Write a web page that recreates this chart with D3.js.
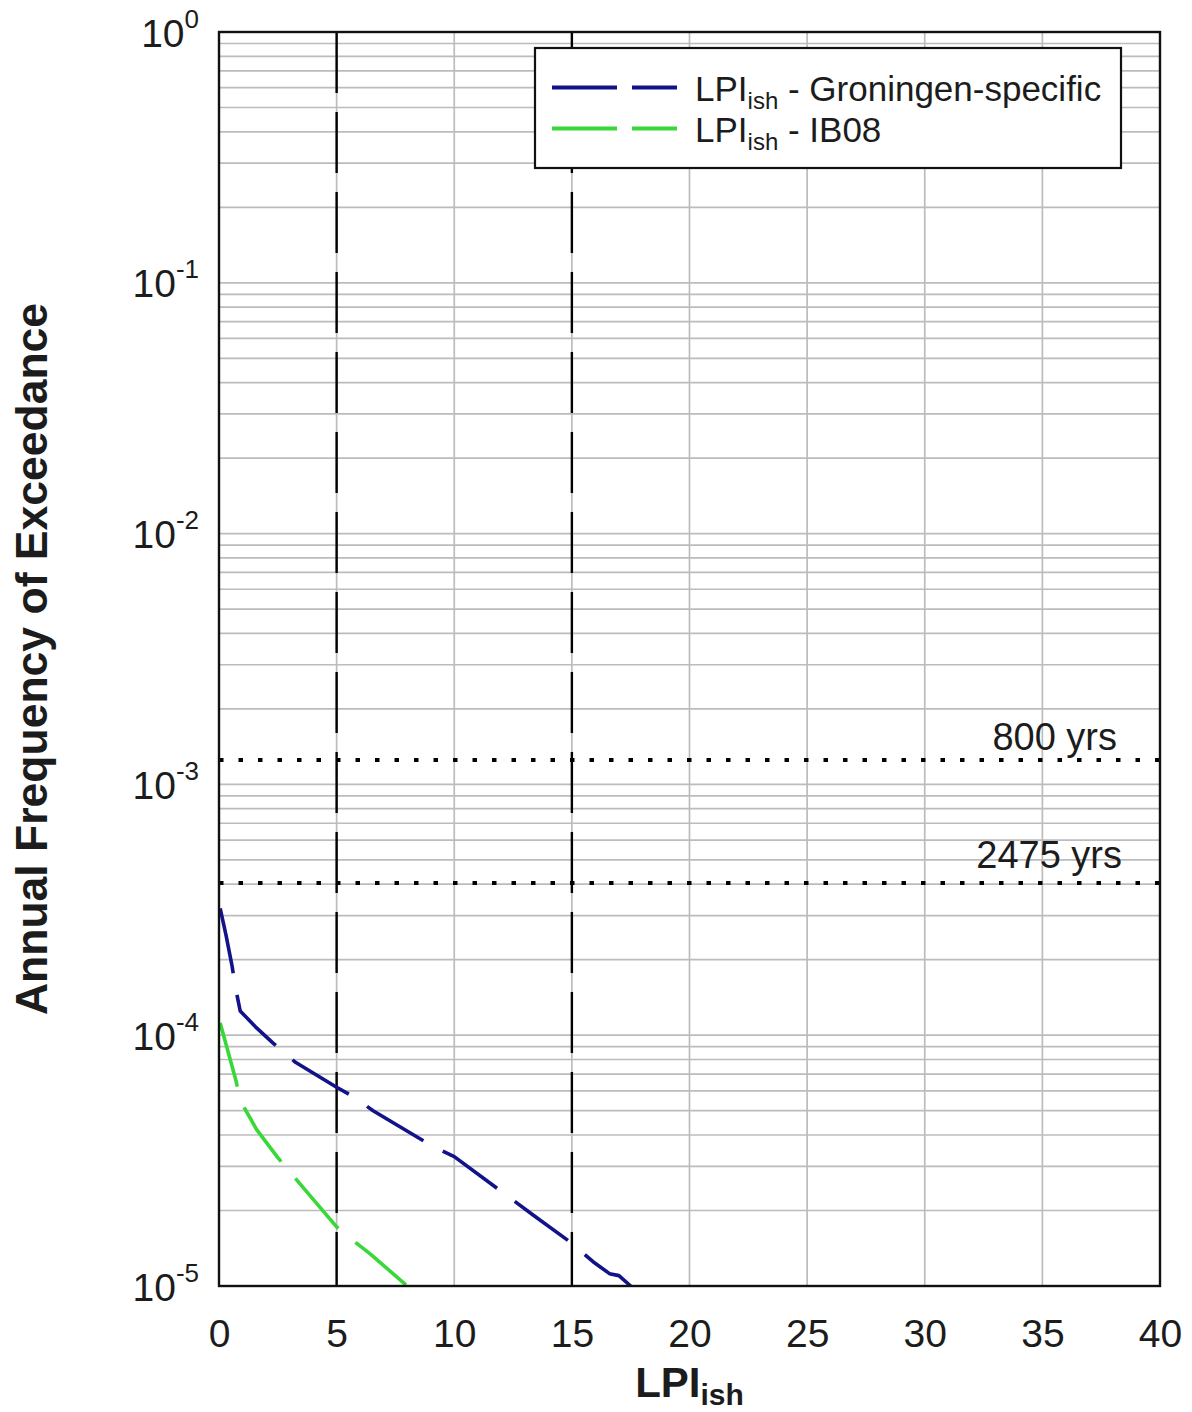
<!DOCTYPE html>
<html>
<head>
<meta charset="utf-8">
<script src="https://cdn.jsdelivr.net/npm/d3@7"></script>
<style>
  body { margin: 0; background: #fff; }
  svg { display: block; }
  text { font-family: "Liberation Sans", Arial, sans-serif; fill: #1c1c1c; }
</style>
</head>
<body>
<svg id="chart" width="1192" height="1412"></svg>
<script>
// Axis ticks
const xTicks = [0, 5, 10, 15, 20, 25, 30, 35, 40];
const yDecades = [1, 1e-1, 1e-2, 1e-3, 1e-4, 1e-5];
const yExponents = ["0", "-1", "-2", "-3", "-4", "-5"];

// LPIish hazard curves (annual frequency of exceedance)
const gronLPI  = [0.05, 0.3, 0.55, 0.7, 0.9, 1.55, 2.3, 3.25, 5.0, 5.7, 6.55, 9.1, 10.0, 12.5, 13.35, 15.0, 15.9, 16.6, 17.0, 17.5];
const gronFreq = [3.2e-4, 2.5e-4, 1.9e-4, 1.55e-4, 1.25e-4, 1.08e-4, 9.3e-5, 7.8e-5, 6.2e-5, 5.7e-5, 5.0e-5, 3.6e-5, 3.28e-5, 2.2e-5, 1.92e-5, 1.48e-5, 1.25e-5, 1.12e-5, 1.1e-5, 1.0e-5];

const ib08LPI  = [0.05, 0.4, 0.72, 0.9, 1.6, 2.5, 3.3, 5.0, 5.5, 6.4, 8.0];
const ib08Freq = [1.12e-4, 8.5e-5, 6.6e-5, 5.5e-5, 4.2e-5, 3.25e-5, 2.65e-5, 1.72e-5, 1.57e-5, 1.35e-5, 1.0e-5];

// Reference levels
const markerLPI = [5, 15];
const returnPeriods = [800, 2475];
const returnLabels = ["800 yrs", "2475 yrs"];

const seriesNames = ["Groningen-specific", "IB08"];
const seriesColors = ["#12128a", "#38d838"];

const svg = d3.select("#chart");
const plotLeft = 219, plotRight = 1160, plotTop = 32, plotBottom = 1286;

const x = d3.scaleLinear().domain([0, 40]).range([plotLeft, plotRight]);
const y = d3.scaleLog().domain([1e-5, 1]).range([plotBottom, plotTop]);

svg.append("defs").append("clipPath").attr("id", "plotClip")
  .append("rect").attr("x", plotLeft).attr("y", plotTop)
  .attr("width", plotRight - plotLeft).attr("height", plotBottom - plotTop);

// Grid
const grid = svg.append("g").attr("stroke", "#bcbcbc").attr("stroke-width", 1.7);
grid.selectAll("line.gy").data(y.ticks()).join("line")
  .attr("x1", plotLeft).attr("x2", plotRight)
  .attr("y1", d => y(d)).attr("y2", d => y(d));
grid.selectAll("line.gx").data(xTicks.slice(1, -1)).join("line")
  .attr("x1", d => x(d)).attr("x2", d => x(d))
  .attr("y1", plotTop).attr("y2", plotBottom);

const plot = svg.append("g").attr("clip-path", "url(#plotClip)");

// Vertical dashed markers
plot.selectAll("line.mark").data(markerLPI).join("line")
  .attr("x1", d => x(d)).attr("x2", d => x(d))
  .attr("y1", plotTop).attr("y2", plotBottom)
  .attr("stroke", "#000").attr("stroke-width", 2.4)
  .attr("stroke-dasharray", "61,19");

// Return-period levels
plot.selectAll("line.rp").data(returnPeriods).join("line")
  .attr("x1", plotLeft).attr("x2", plotRight)
  .attr("y1", d => y(1 / d)).attr("y2", d => y(1 / d))
  .attr("stroke", "#000").attr("stroke-width", 4)
  .attr("stroke-dasharray", "4.5,15");

const labelOffsets = [{ dx: 1117, dy: -10 }, { dx: 1122, dy: -15 }];
svg.selectAll("text.rp").data(returnPeriods).join("text")
  .attr("x", (d, i) => labelOffsets[i].dx)
  .attr("y", (d, i) => y(1 / d) + labelOffsets[i].dy)
  .attr("text-anchor", "end").attr("font-size", 38)
  .text((d, i) => returnLabels[i]);

// Curves
const line = d3.line().x(d => x(d[0])).y(d => y(d[1]));
const series = [
  d3.zip(gronLPI, gronFreq),
  d3.zip(ib08LPI, ib08Freq)
];
plot.selectAll("path.curve").data(series).join("path")
  .attr("d", line)
  .attr("fill", "none")
  .attr("stroke", (d, i) => seriesColors[i])
  .attr("stroke-width", 3.6)
  .attr("stroke-linejoin", "round")
  .attr("stroke-dasharray", "66,22");

// Frame
svg.append("rect").attr("x", plotLeft).attr("y", plotTop)
  .attr("width", plotRight - plotLeft).attr("height", plotBottom - plotTop)
  .attr("fill", "none").attr("stroke", "#111").attr("stroke-width", 2.4);

// X axis
const xAxis = svg.append("g").attr("transform", `translate(0,${plotBottom})`)
  .call(d3.axisBottom(x).tickValues(xTicks).tickSize(0).tickPadding(33).tickFormat(d3.format("d")));
xAxis.select(".domain").remove();
xAxis.selectAll("text").attr("font-size", 39).attr("fill", "#1c1c1c")
  .attr("font-family", "'Liberation Sans', Arial, sans-serif");

// Y axis with power-of-ten labels
const yAxis = svg.append("g").attr("transform", `translate(${plotLeft},0)`)
  .call(d3.axisLeft(y).tickValues(yDecades).tickSize(0).tickPadding(20).tickFormat(() => "10"));
yAxis.select(".domain").remove();
yAxis.selectAll("text")
  .attr("font-size", 39).attr("fill", "#1c1c1c").attr("dy", "0.36em")
  .attr("font-family", "'Liberation Sans', Arial, sans-serif")
  .each(function (d, i) {
    d3.select(this).append("tspan")
      .attr("dy", -19).attr("font-size", 26)
      .text(yExponents[i]);
  });

// Axis titles
const xTitle = svg.append("text")
  .attr("x", (plotLeft + plotRight) / 2).attr("y", 1397)
  .attr("text-anchor", "middle").attr("font-weight", "bold").attr("font-size", 42);
xTitle.append("tspan").text("LPI");
xTitle.append("tspan").attr("dy", 8).attr("font-size", 30).text("ish");

svg.append("text")
  .attr("transform", `translate(47,${(plotTop + plotBottom) / 2}) rotate(-90)`)
  .attr("text-anchor", "middle").attr("font-weight", "bold").attr("font-size", 44.5)
  .text("Annual Frequency of Exceedance");

// Legend
const legend = svg.append("g");
legend.append("rect").attr("x", 535).attr("y", 48).attr("width", 586).attr("height", 120)
  .attr("fill", "#fff").attr("stroke", "#111").attr("stroke-width", 2.2);
const rowY = [87.5, 128.5];
seriesNames.forEach((name, i) => {
  legend.append("line")
    .attr("x1", 552).attr("x2", 677).attr("y1", rowY[i]).attr("y2", rowY[i])
    .attr("stroke", seriesColors[i]).attr("stroke-width", 4)
    .attr("stroke-dasharray", "65,15");
  const t = legend.append("text").attr("x", 695).attr("y", rowY[i] + 13).attr("font-size", 35);
  t.append("tspan").text("LPI");
  t.append("tspan").attr("dy", 8).attr("font-size", 24).text("ish");
  t.append("tspan").attr("dy", -8).text(" - " + name);
});
</script>
</body>
</html>
